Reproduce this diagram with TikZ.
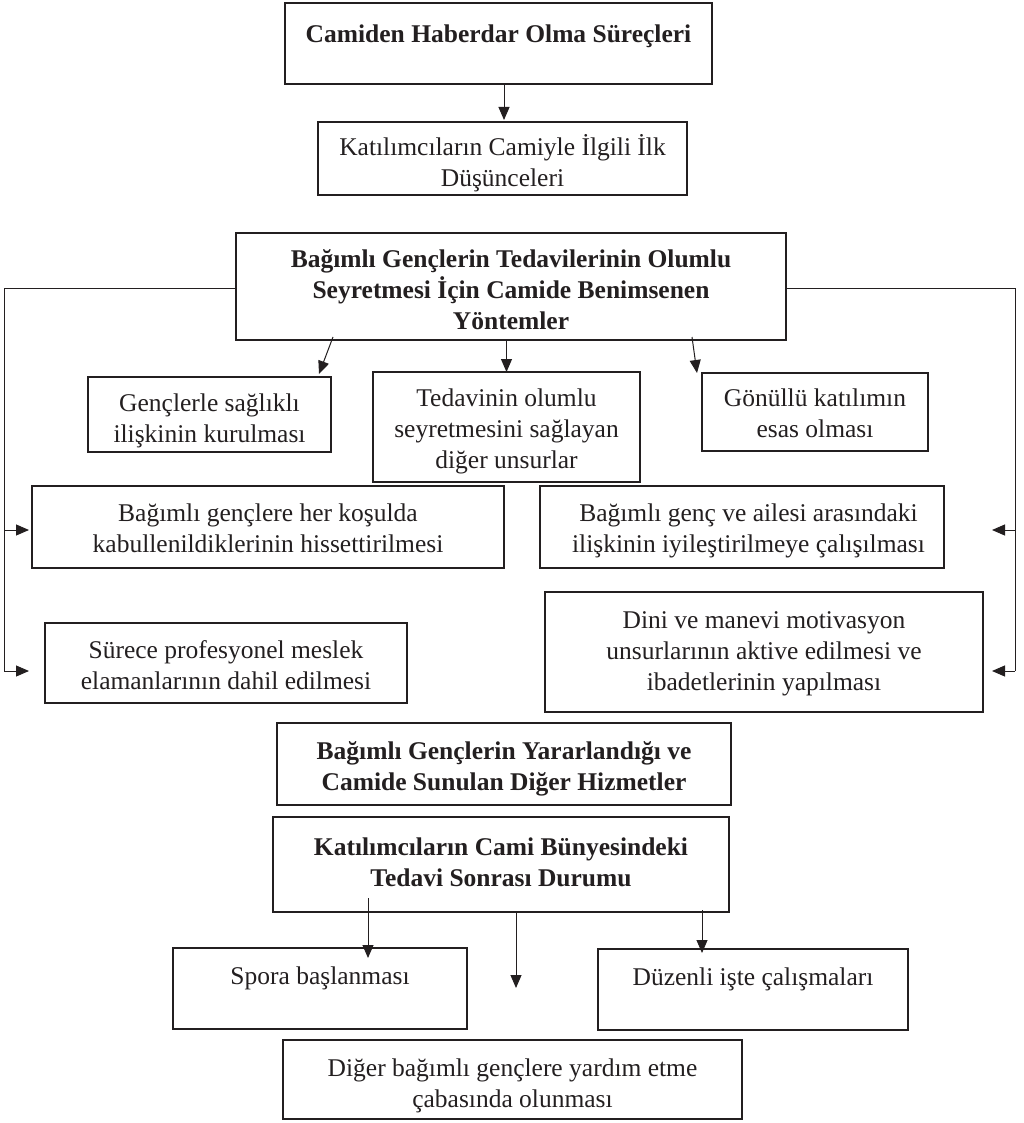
\documentclass[tikz,border=0pt]{standalone}
\usepackage{fontspec}
\setmainfont{Liberation Serif}
\usetikzlibrary{arrows.meta}
\definecolor{ink}{RGB}{35,31,32}
\newcommand\mlines[2][5pt]{\raisebox{-#1}[\height][\depth]{\begin{tabular}{@{}c@{}}#2\end{tabular}}}
\begin{document}
\begin{tikzpicture}[x=1pt,y=-1pt,
  box/.style={draw=ink, line width=1.8pt, inner sep=0pt, outer sep=0pt,
    text=ink, font=\fontsize{25.5}{31}\selectfont},
  bbox/.style={box, font=\fontsize{25.5}{31}\selectfont\bfseries},
  bus/.style={draw=ink, line width=1pt},
  conn/.style={draw=ink, line width=1pt, -{Triangle[length=13pt,width=11pt]}}]
\useasboundingbox[fill=white] (0,0) rectangle (1023,1123);

% boxes
\node[bbox, minimum width=427pt, minimum height=81pt, text height=40pt, text depth=41pt] (A) at (498.5,43.5) {Camiden Haberdar Olma Süreçleri};
\node[box, minimum width=369pt, minimum height=73pt] (B) at (502.5,158.5) {\mlines[6pt]{Katılımcıların Camiyle İlgili İlk\\Düşünceleri}};
\node[bbox, minimum width=550pt, minimum height=107pt] (C) at (511,286.5) {\mlines[6pt]{Bağımlı Gençlerin Tedavilerinin Olumlu\\Seyretmesi İçin Camide Benimsenen\\Yöntemler}};
\node[box, minimum width=243pt, minimum height=75pt] (D) at (209.5,414.5) {\mlines[6pt]{Gençlerle sağlıklı\\ilişkinin kurulması}};
\node[box, minimum width=267pt, minimum height=110pt] (E) at (506.5,427) {\mlines[4pt]{Tedavinin olumlu\\seyretmesini sağlayan\\diğer unsurlar}};
\node[box, minimum width=226pt, minimum height=78pt] (F) at (815,412) {\mlines[4pt]{Gönüllü katılımın\\esas olması}};
\node[box, minimum width=472pt, minimum height=82pt] (G) at (268,527) {\mlines[4pt]{Bağımlı gençlere her koşulda\\kabullenildiklerinin hissettirilmesi}\hspace{72pt}};
\node[box, minimum width=404pt, minimum height=82pt] (H) at (742,527) {\hspace{13pt}\mlines[4pt]{Bağımlı genç ve ailesi arasındaki\\ilişkinin iyileştirilmeye çalışılması}};
\node[box, minimum width=362pt, minimum height=80pt] (I) at (226,663) {\mlines[5pt]{Sürece profesyonel meslek\\elamanlarının dahil edilmesi}};
\node[box, minimum width=438pt, minimum height=120pt] (J) at (764,652) {\mlines[1pt]{Dini ve manevi motivasyon\\unsurlarının aktive edilmesi ve\\ibadetlerinin yapılması}};
\node[bbox, minimum width=454pt, minimum height=82pt] (K) at (504,764) {\mlines[5pt]{Bağımlı Gençlerin Yararlandığı ve\\Camide Sunulan Diğer Hizmetler}};
\node[bbox, minimum width=456pt, minimum height=95pt] (L) at (501,864.5) {\mlines[0pt]{Katılımcıların Cami Bünyesindeki\\Tedavi Sonrası Durumu}};
\node[box, minimum width=294pt, minimum height=81pt, text height=36pt, text depth=45pt] (M) at (320,988.5) {Spora başlanması};
\node[box, minimum width=310pt, minimum height=81pt, text height=36pt, text depth=45pt] (N) at (753,989.5) {Düzenli işte çalışmaları};
\node[box, minimum width=459pt, minimum height=79pt] (O) at (512.5,1079.5) {\mlines[6pt]{Diğer bağımlı gençlere yardım etme\\çabasında olunması}};

% bus coordinates
\coordinate (l1) at (4,288);
\coordinate (l2) at (4,530);
\coordinate (l3) at (4,671);
\coordinate (la3) at (29,671);
\coordinate (r1) at (1015,288);
\coordinate (r2) at (1015,530);
\coordinate (r3) at (1015,671);
\coordinate (ra2) at (992,530);
\coordinate (ra3) at (992,671);
\coordinate (mid) at (516,988);

% connectors
\draw[conn] ([xshift=5.5pt]A.south) -- ([xshift=1.5pt,yshift=2pt]B.north);
\draw[conn] ([xshift=-178pt,yshift=3pt]C.south) -- ([xshift=109.5pt,yshift=3pt]D.north);
\draw[conn] (E.north |- C.south) -- (E.north);
\draw[conn] ([xshift=181pt,yshift=3pt]C.south) -- ([xshift=-118pt]F.north);

\draw[bus] (l1 -| C.west) -- (l1) -- (l3);
\draw[conn] (l2) -- ([xshift=-3pt]G.west |- l2);
\draw[conn] (l3) -- (la3);
\draw[bus] (r1 -| C.east) -- (r1) -- (r3);
\draw[conn] (r2) -- (ra2);
\draw[conn] (r3) -- (ra3);

\draw[conn] ([xshift=-133pt,yshift=14pt]L.south) -- ([xshift=48pt,yshift=-10pt]M.north);
\draw[conn] ([xshift=15pt]L.south) -- (mid);
\draw[conn] ([xshift=201pt,yshift=2pt]L.south) -- ([xshift=-51pt,yshift=-4pt]N.north);
\end{tikzpicture}
\end{document}
